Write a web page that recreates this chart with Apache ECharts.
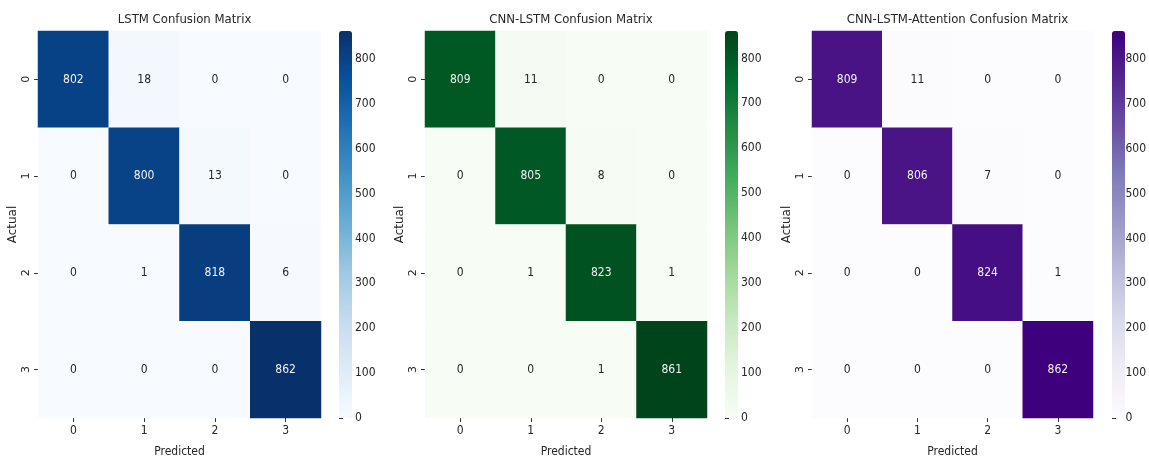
<!DOCTYPE html>
<html>
<head>
<meta charset="utf-8">
<script src="https://cdn.jsdelivr.net/npm/echarts@6/dist/echarts.min.js"></script>
<style>html,body{margin:0;padding:0;background:#fff}#c{width:1149px;height:464px}</style>
</head>
<body>
<div id="c"></div>
<script>
const classes = ['0', '1', '2', '3'];
const titles = ['LSTM Confusion Matrix', 'CNN-LSTM Confusion Matrix', 'CNN-LSTM-Attention Confusion Matrix'];
const lstmMatrix = [
  [802, 18, 0, 0],
  [0, 800, 13, 0],
  [0, 1, 818, 6],
  [0, 0, 0, 862]
];
const cnnLstmMatrix = [
  [809, 11, 0, 0],
  [0, 805, 8, 0],
  [0, 1, 823, 1],
  [0, 0, 1, 861]
];
const attnMatrix = [
  [809, 11, 0, 0],
  [0, 806, 7, 0],
  [0, 0, 824, 1],
  [0, 0, 0, 862]
];
const colorbarTicks = [0, 100, 200, 300, 400, 500, 600, 700, 800];

const matrices = [lstmMatrix, cnnLstmMatrix, attnMatrix];
const palettes = [
  ['#f7fbff','#deebf7','#c6dbef','#9ecae1','#6baed6','#4292c6','#2171b5','#08519c','#08306b'],
  ['#f7fcf5','#e5f5e0','#c7e9c0','#a1d99b','#74c476','#41ab5d','#238b45','#006d2c','#00441b'],
  ['#fcfbfd','#efedf5','#dadaeb','#bcbddc','#9e9ac8','#807dba','#6a51a3','#54278f','#3f007d']
];
const hmLeft = [38, 425, 812];
const hmWidth = [283, 282, 281];
const cbLeft = [339, 725, 1112];
const TOP = 31, H = 387, CBW = 13;
const FONT = "'DejaVu Sans Condensed','Liberation Sans Narrow','DejaVu Sans',sans-serif";
const TXT = '#262626';

const grids = [], xAxes = [], yAxes = [], series = [], visualMaps = [], titleArr = [];
matrices.forEach((m, p) => {
  const maxV = Math.max(...m.flat());
  const minV = Math.min(...m.flat());
  grids.push({left: hmLeft[p], top: TOP, width: hmWidth[p], height: H});
  grids.push({left: cbLeft[p], top: TOP, width: CBW, height: H});
  const gi = p * 2;
  xAxes.push({
    type: 'category', gridIndex: gi, data: classes, position: 'bottom',
    name: 'Predicted', nameLocation: 'middle', nameGap: 28,
    nameTextStyle: {fontFamily: FONT, fontSize: 12, color: TXT},
    axisLine: {show: false}, splitArea: {show: false},
    axisTick: {show: true, alignWithLabel: true, length: 4, lineStyle: {color: '#333'}},
    axisLabel: {fontFamily: FONT, fontSize: 12, color: TXT, margin: 7}
  });
  xAxes.push({type: 'value', gridIndex: gi + 1, show: false, min: 0, max: 1});
  yAxes.push({
    type: 'category', gridIndex: gi, data: classes, inverse: true,
    name: 'Actual', nameLocation: 'middle', nameGap: 19, nameRotate: 90,
    nameTextStyle: {fontFamily: "'DejaVu Sans',sans-serif", fontSize: 12, color: TXT},
    axisLine: {show: false},
    axisTick: {show: true, alignWithLabel: true, length: 4, lineStyle: {color: '#333'}},
    axisLabel: {fontFamily: "'DejaVu Sans',sans-serif", fontSize: 11, color: TXT, rotate: 90, margin: 6}
  });
  yAxes.push({
    type: 'value', gridIndex: gi + 1, position: 'right', min: minV, max: maxV,
    splitLine: {show: false}, axisLine: {show: false},
    axisTick: {show: true, length: 4, lineStyle: {color: '#333'}, customValues: colorbarTicks},
    axisLabel: {fontFamily: FONT, fontSize: 12, color: TXT, margin: 3,
      customValues: colorbarTicks, showMaxLabel: true, showMinLabel: true}
  });
  const data = [];
  m.forEach((row, r) => row.forEach((v, c) => data.push([c, r, v])));
  series.push({
    type: 'heatmap', xAxisIndex: gi, yAxisIndex: gi,
    data: data.map(d => ({value: d, label: {color: d[2] > maxV * 0.5 ? '#f0f0f0' : '#262626'}})),
    label: {
      show: true, fontFamily: FONT, fontSize: 12,
      formatter: (d) => String(d.value[2])
    },
    emphasis: {disabled: true},
    itemStyle: {borderWidth: 0}
  });
  visualMaps.push({
    type: 'continuous', seriesIndex: p, min: minV, max: maxV,
    calculable: false, orient: 'vertical', left: cbLeft[p], top: TOP,
    itemWidth: CBW, itemHeight: H, text: null, showLabel: false, padding: 0,
    inRange: {color: palettes[p]}, hoverLink: false
  });
  titleArr.push({
    text: titles[p], left: hmLeft[p] + hmWidth[p] / 2, top: 8, textAlign: 'center',
    textStyle: {fontFamily: FONT, fontSize: 13, fontWeight: 'normal', color: TXT}
  });
});

const chart = echarts.init(document.getElementById('c'), null, {renderer: 'canvas'});
chart.setOption({
  animation: false,
  backgroundColor: '#ffffff',
  title: titleArr,
  grid: grids, xAxis: xAxes, yAxis: yAxes,
  visualMap: visualMaps,
  series: series
});
</script>
</body>
</html>
